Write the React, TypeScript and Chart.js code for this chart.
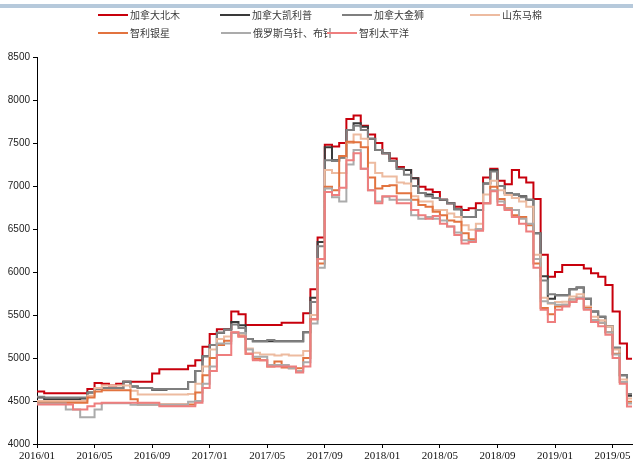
import React, { useEffect, useRef } from "react";
import { Chart, registerables } from "chart.js";

Chart.register(...registerables);

// Months counted from 2016/01; each value holds for half a month.
const START_YEAR = 2016;
const X_TICK_MONTHS = [0, 4, 8, 12, 16, 20, 24, 28, 32, 36, 40];
const X_MAX = 41.35;
const Y_MIN = 4000;
const Y_MAX = 8500;
const Y_STEP = 500;

const SERIES_NAMES = [
  "加拿大北木",
  "加拿大凯利普",
  "加拿大金狮",
  "山东马棉",
  "智利银星",
  "俄罗斯乌针、布针",
  "智利太平洋",
];

const SERIES_COLORS = [
  "#C8000C",
  "#3A3A3A",
  "#7F7F7F",
  "#EDBBA0",
  "#E2733F",
  "#ABABAB",
  "#EE7E7E",
];

const beimu = [
  4610, 4590, 4590, 4590, 4590, 4590, 4590, 4640,
  4710, 4700, 4680, 4700, 4725, 4725, 4725, 4725,
  4820, 4870, 4870, 4870, 4870, 4910, 4975, 5130,
  5280, 5333, 5333, 5540, 5510, 5385, 5385, 5385,
  5385, 5385, 5410, 5410, 5410, 5520, 5800, 6400,
  7480, 7460, 7500, 7780, 7820, 7700, 7600, 7500,
  7380, 7320, 7220, 7186, 7090, 6990, 6960, 6930,
  6840, 6800, 6760, 6720, 6740, 6800, 7100, 7200,
  7060, 7020, 7186, 7100, 7040, 6850, 6200, 5945,
  6000, 6080, 6080, 6080, 6040, 5985, 5945, 5850,
  5540, 5170, 4990, 4990,
];

const kailipu = [
  4540, 4520, 4520, 4520, 4520, 4520, 4530, 4600,
  4640, 4650, 4650, 4650, 4725, 4670, 4650, 4650,
  4630, 4630, 4640, 4640, 4640, 4720, 4850, 5020,
  5150, 5295, 5330, 5420, 5380, 5220, 5195, 5195,
  5195, 5195, 5195, 5195, 5195, 5300, 5700, 6350,
  7450, 7300, 7330, 7650, 7730, 7690, 7550, 7420,
  7380, 7290, 7200, 7186, 7090, 6920, 6900, 6860,
  6840, 6800, 6730, 6640, 6640, 6720, 7030, 7186,
  7000, 6915, 6900, 6880, 6840, 6450, 5950, 5690,
  5730, 5730, 5800, 5820, 5690, 5540, 5480, 5370,
  5120, 4800, 4560, 4560,
];

const jinshi = [
  4550, 4540, 4540, 4540, 4540, 4540, 4540, 4600,
  4640, 4650, 4650, 4650, 4725, 4670, 4650, 4650,
  4640, 4640, 4640, 4640, 4640, 4720, 4850, 5020,
  5150, 5295, 5330, 5390, 5350, 5220, 5195, 5195,
  5210, 5195, 5195, 5195, 5195, 5300, 5650, 6300,
  7300, 7290, 7330, 7650, 7700, 7650, 7550, 7420,
  7380, 7290, 7200, 7130, 7000, 6920, 6880, 6860,
  6840, 6800, 6730, 6640, 6640, 6720, 7030, 7170,
  7000, 6915, 6900, 6870, 6840, 6450, 5900, 5740,
  5730, 5730, 5800, 5820, 5690, 5540, 5480, 5370,
  5120, 4800, 4580, 4580,
];

const mamian = [
  4500, 4500, 4500, 4500, 4500, 4500, 4500, 4560,
  4650, 4680, 4680, 4680, 4680, 4620, 4575, 4575,
  4575, 4575, 4575, 4575, 4575, 4580, 4700, 4900,
  5100, 5220, 5250, 5300, 5270, 5110, 5060, 5040,
  5040, 5030, 5040, 5030, 5030, 5080, 5500, 6150,
  7186, 7150, 7150, 7500, 7600, 7550, 7270, 7150,
  7110, 7110, 7040, 7030, 6880, 6820, 6820, 6720,
  6720, 6680, 6640, 6545, 6490, 6560, 6900, 7060,
  6950, 6895, 6860, 6820, 6760, 6200, 5700, 5630,
  5650, 5655, 5715, 5740, 5600, 5480, 5440, 5365,
  5100, 4750, 4530, 4530,
];

const yinxing = [
  4480, 4480, 4480, 4480, 4480, 4480, 4480, 4540,
  4610, 4625, 4625, 4625, 4625, 4520, 4460, 4460,
  4460, 4460, 4460, 4460, 4460, 4460, 4600, 4800,
  5000, 5150, 5200, 5290, 5250, 5050, 4990, 4975,
  4900, 4960, 4890, 4880, 4880, 5000, 5450, 6100,
  6990, 6950, 7350, 7515, 7510, 7450, 7100, 6970,
  7000, 7010, 6915, 6915, 6840, 6780, 6760, 6700,
  6660, 6600, 6585, 6450, 6380, 6500, 6800, 6990,
  6850, 6740, 6660, 6640, 6545, 6100, 5580, 5510,
  5600, 5620, 5680, 5700, 5580, 5440, 5410, 5300,
  5050, 4720, 4490, 4490,
];

const eluosi = [
  4470, 4470, 4470, 4470, 4400, 4400, 4310, 4310,
  4400, 4475, 4475, 4475, 4475, 4455, 4455, 4455,
  4455, 4455, 4455, 4455, 4455, 4490, 4500, 4700,
  4900, 5170, 5170, 5290, 5290, 5100, 5015, 5015,
  4920, 4920, 4920, 4880, 4850, 4950, 5400, 6050,
  6970, 6870, 6820, 7250, 7420, 7200, 6950, 6820,
  6875, 6840, 6840, 6840, 6660, 6620, 6640, 6620,
  6600, 6530, 6460, 6370, 6360, 6500, 6800, 6950,
  6820, 6730, 6720, 6620, 6560, 6150, 5660, 5640,
  5620, 5620, 5680, 5700, 5570, 5440, 5410, 5300,
  5040, 4720, 4470, 4470,
];

const taipingyang = [
  4460, 4460, 4460, 4460, 4460, 4400, 4400, 4440,
  4470, 4480, 4480, 4480, 4480, 4480, 4480, 4480,
  4480, 4440, 4440, 4440, 4440, 4440, 4480, 4650,
  4850, 5035, 5035, 5300, 5250, 5050, 4975, 4975,
  4900, 4900, 4900, 4900, 4830, 4900, 5450, 6150,
  6930, 6895, 6980, 7300, 7380, 7200, 6950, 6800,
  6880, 6880, 6800, 6800, 6720, 6660, 6620, 6650,
  6560, 6530, 6430, 6330, 6350, 6480, 6800, 6940,
  6780, 6720, 6640, 6560, 6470, 6050, 5560, 5420,
  5560, 5600, 5650, 5690, 5560, 5420, 5370, 5270,
  5000, 4700, 4435, 4435,
];

const SERIES_VALUES = [beimu, kailipu, jinshi, mamian, yinxing, eluosi, taipingyang];

// Start of each half-month period, in months after 2016/01.
const PERIODS = beimu.map((_, i) => i / 2);

// Legend rows: [series index, left of the sample line, row centre]
const LEGEND_LAYOUT: [number, number, number][] = [
  [0, 98, 15],
  [1, 220, 15],
  [2, 342, 15],
  [3, 470, 15],
  [4, 98, 33],
  [5, 221, 33],
  [6, 327, 33],
];

const monthLabel = (m: number) => {
  const year = START_YEAR + Math.floor(m / 12);
  const month = (m % 12) + 1;
  return `${year}/${String(month).padStart(2, "0")}`;
};

export default function App() {
  const canvasRef = useRef<HTMLCanvasElement>(null);

  useEffect(() => {
    const prevMargin = document.body.style.margin;
    document.body.style.margin = "0";
    const canvas = canvasRef.current;
    if (!canvas) return;

    const n = SERIES_NAMES.length;
    const chart = new Chart(canvas, {
      type: "line",
      data: {
        datasets: SERIES_NAMES.map((name, i) => ({
          label: name,
          data: SERIES_VALUES[i].map((v, k) => ({ x: PERIODS[k], y: v })),
          borderColor: SERIES_COLORS[i],
          backgroundColor: SERIES_COLORS[i],
          borderWidth: 2,
          pointRadius: 0,
          stepped: true,
          fill: false,
          order: n - i,
        })),
      },
      options: {
        animation: false,
        responsive: false,
        maintainAspectRatio: false,
        layout: { padding: { top: 57, right: 1, left: 0, bottom: 0 } },
        plugins: {
          legend: { display: false },
          tooltip: { enabled: false },
        },
        scales: {
          x: {
            type: "linear",
            min: 0,
            max: X_MAX,
            afterFit: (scale: any) => {
              scale.height = 24;
            },
            afterBuildTicks: (scale: any) => {
              scale.ticks = X_TICK_MONTHS.map((v) => ({ value: v }));
            },
            ticks: {
              autoSkip: false,
              maxRotation: 0,
              padding: 2,
              color: "#111",
              font: { family: "Liberation Serif", size: 11 },
              callback: (v: any) => monthLabel(Number(v)),
            },
            grid: {
              drawOnChartArea: false,
              drawTicks: true,
              tickLength: 4,
              color: "#000",
            },
            border: { color: "#000", width: 1 },
          },
          y: {
            min: Y_MIN,
            max: Y_MAX,
            afterFit: (scale: any) => {
              scale.width = 37;
            },
            ticks: {
              stepSize: Y_STEP,
              padding: 3,
              color: "#222",
              font: { family: "Liberation Sans", size: 10 },
              callback: (v: any) => String(v),
            },
            grid: {
              drawOnChartArea: false,
              drawTicks: true,
              tickLength: 4,
              color: "#000",
            },
            border: { color: "#000", width: 1 },
          },
        },
      },
    });

    return () => {
      chart.destroy();
      document.body.style.margin = prevMargin;
    };
  }, []);

  return (
    <div
      style={{
        position: "fixed",
        left: 0,
        top: 0,
        width: 633,
        height: 468,
        background: "#fff",
        overflow: "hidden",
      }}
    >
      <div
        style={{
          position: "absolute",
          left: 0,
          top: 4,
          width: 633,
          height: 4,
          background: "#B6C9DB",
        }}
      />
      <canvas
        ref={canvasRef}
        width={633}
        height={468}
        style={{ position: "absolute", left: 0, top: 0, width: 633, height: 468 }}
      />
      {LEGEND_LAYOUT.map(([idx, left, cy]) => (
        <div
          key={idx}
          style={{
            position: "absolute",
            left,
            top: cy - 8,
            height: 16,
            display: "flex",
            alignItems: "center",
            whiteSpace: "nowrap",
          }}
        >
          <div style={{ width: 30, height: 2, background: SERIES_COLORS[idx] }} />
          <span
            style={{
              marginLeft: 2,
              fontFamily: "'Noto Sans CJK SC', sans-serif",
              fontSize: 10,
              lineHeight: "16px",
              color: "#3a3a3a",
            }}
          >
            {SERIES_NAMES[idx]}
          </span>
        </div>
      ))}
    </div>
  );
}
